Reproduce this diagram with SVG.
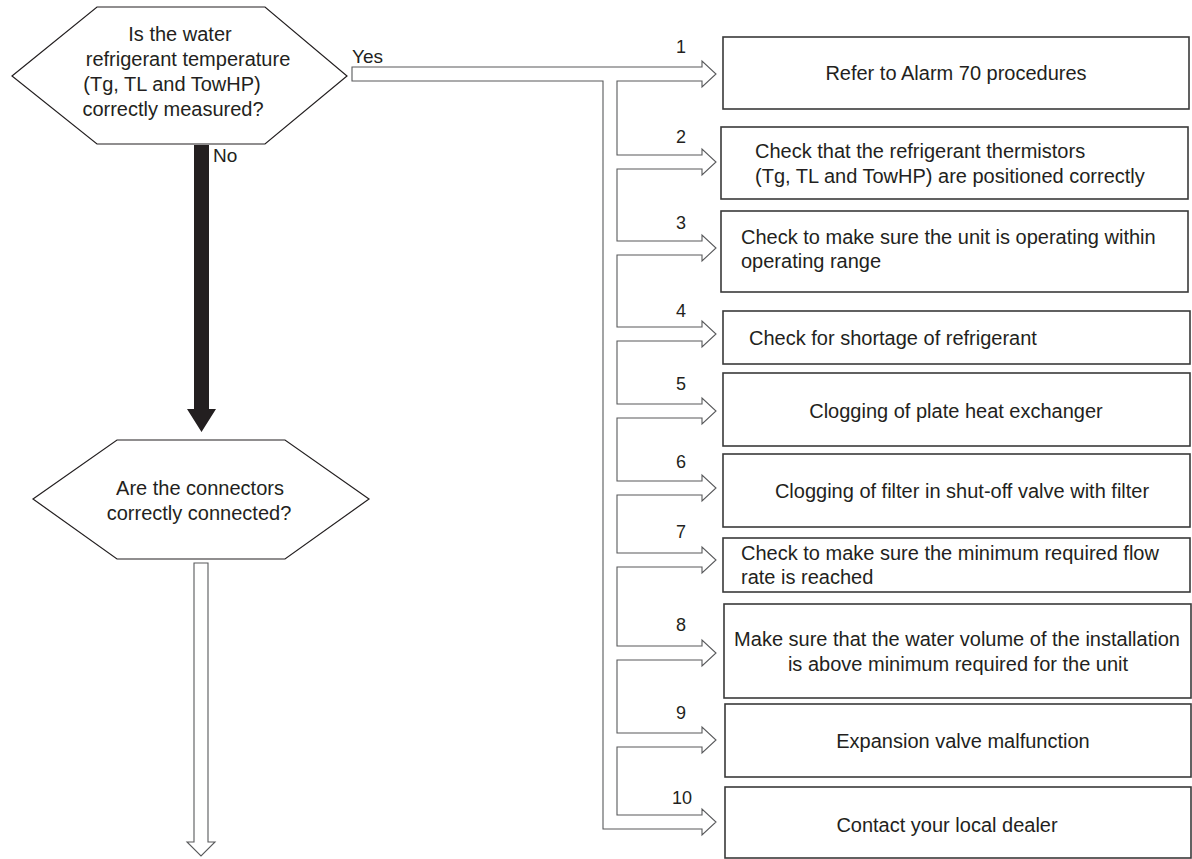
<svg xmlns="http://www.w3.org/2000/svg" width="1192" height="859" viewBox="0 0 1192 859">
<style>
  text { font-family: "Liberation Sans", Arial, Helvetica, sans-serif; fill: #231f20; }
  .t { font-size: 20px; }
  .c { text-anchor: middle; }
  .num { font-size: 18px; text-anchor: middle; }
  .lbl { font-size: 19px; }
  .hex { fill: #ffffff; stroke: #231f20; stroke-width: 1.2; }
  .box { fill: #ffffff; stroke: #3a3a3a; stroke-width: 1.6; }
  .hollow { fill: #ffffff; stroke: #58595b; stroke-width: 1.1; stroke-linejoin: miter; }
  .solid { fill: #231f20; stroke: none; }
</style>
<rect width="1192" height="859" fill="#ffffff"/>

<g id="connectors">
  <path class="hollow" d="M352,67 H702 V61 L716,74 L702,87 V81 H617 V155 H702 V149 L716,162 L702,175 V169 H617 V241 H702 V235 L716,248 L702,261 V255 H617 V327 H702 V321 L716,334 L702,347 V341 H617 V404 H702 V398 L716,411 L702,424 V418 H617 V481 H702 V475 L716,488 L702,501 V495 H617 V553 H702 V547 L716,560 L702,573 V567 H617 V646 H702 V640 L716,653 L702,666 V660 H617 V733 H702 V727 L716,740 L702,753 V747 H617 V815 H702 V809 L716,822 L702,835 V829 H603 V81 H352 Z"/>
  <path class="solid" d="M194,145 H209 V409 H216 L201.5,432 L187,409 H194 Z"/>
  <path class="hollow" d="M194,563 H208 V842 H215 L201,856 L187,842 H194 Z"/>
  <text class="lbl" x="352" y="63">Yes</text>
  <text class="lbl" x="213" y="162">No</text>
  <text class="num" x="681" y="53">1</text>
  <text class="num" x="681" y="143">2</text>
  <text class="num" x="681" y="229">3</text>
  <text class="num" x="681" y="317">4</text>
  <text class="num" x="681" y="390">5</text>
  <text class="num" x="681" y="468">6</text>
  <text class="num" x="681" y="538">7</text>
  <text class="num" x="681" y="631">8</text>
  <text class="num" x="681" y="719">9</text>
  <text class="num" x="682" y="804">10</text>
</g>

<g id="decision1">
  <polygon class="hex" points="12,76 97,7 265,7 347,76 265,144 97,144"/>
  <text class="t c" x="180" y="41">Is the water</text>
  <text class="t c" x="188" y="66">refrigerant temperature</text>
  <text class="t c" x="172" y="91">(Tg, TL and TowHP)</text>
  <text class="t c" x="173" y="116">correctly measured?</text>
</g>

<g id="decision2">
  <polygon class="hex" points="33,499 117,440 285,440 369,499 285,559 117,559"/>
  <text class="t c" x="200" y="495">Are the connectors</text>
  <text class="t c" x="199" y="520">correctly connected?</text>
</g>

<g id="step1">
  <rect class="box" x="723" y="37" width="466" height="72"/>
  <text class="t c" x="956" y="80">Refer to Alarm 70 procedures</text>
</g>
<g id="step2">
  <rect class="box" x="721" y="127" width="467" height="72"/>
  <text class="t" x="755" y="158">Check that the refrigerant thermistors</text>
  <text class="t" x="755" y="183">(Tg, TL and TowHP) are positioned correctly</text>
</g>
<g id="step3">
  <rect class="box" x="721" y="211" width="467" height="81"/>
  <text class="t" x="741" y="244">Check to make sure the unit is operating within</text>
  <text class="t" x="741" y="268">operating range</text>
</g>
<g id="step4">
  <rect class="box" x="723" y="311" width="467" height="53"/>
  <text class="t" x="749" y="345">Check for shortage of refrigerant</text>
</g>
<g id="step5">
  <rect class="box" x="723" y="373" width="467" height="73"/>
  <text class="t c" x="956" y="418">Clogging of plate heat exchanger</text>
</g>
<g id="step6">
  <rect class="box" x="723" y="454" width="467" height="73"/>
  <text class="t c" x="962" y="498">Clogging of filter in shut-off valve with filter</text>
</g>
<g id="step7">
  <rect class="box" x="723" y="538" width="467" height="54"/>
  <text class="t" x="741" y="560">Check to make sure the minimum required flow</text>
  <text class="t" x="741" y="584">rate is reached</text>
</g>
<g id="step8">
  <rect class="box" x="724" y="604" width="467" height="94"/>
  <text class="t c" x="957" y="646">Make sure that the water volume of the installation</text>
  <text class="t c" x="958" y="671">is above minimum required for the unit</text>
</g>
<g id="step9">
  <rect class="box" x="725" y="704" width="466" height="73"/>
  <text class="t c" x="963" y="748">Expansion valve malfunction</text>
</g>
<g id="step10">
  <rect class="box" x="725" y="787" width="466" height="71"/>
  <text class="t c" x="947" y="832">Contact your local dealer</text>
</g>
</svg>
